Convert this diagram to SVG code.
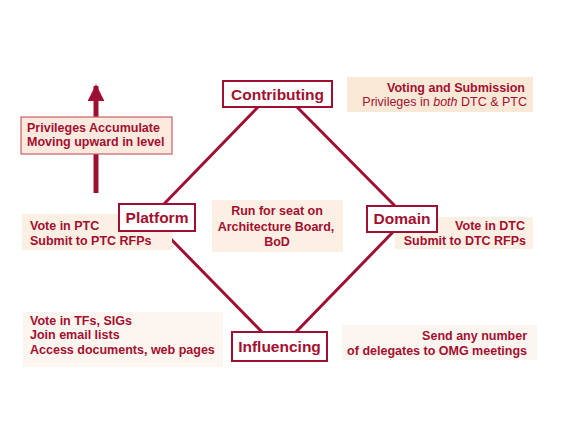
<svg xmlns="http://www.w3.org/2000/svg" width="569" height="428" viewBox="0 0 569 428">
<defs>
<style>
.t{font-family:"Liberation Sans",Arial,sans-serif;font-size:12.5px;font-weight:bold;fill:#A3102F}
.n{font-family:"Liberation Sans",Arial,sans-serif;font-size:15.5px;font-weight:bold;fill:#A3102F;text-anchor:middle}
.box{fill:#ffffff;stroke:#9E1033;stroke-width:2}
.note{fill:#FCEFE4}
.edge{stroke:#9E1033;stroke-width:3;fill:none}
</style>
<marker id="ah" viewBox="0 0 10 10" refX="9" refY="5" markerWidth="3.4" markerHeight="3.4" orient="auto" markerUnits="strokeWidth">
<path d="M0,0 L10,5 L0,10 z" fill="#9E1033"/>
</marker>
</defs>
<rect width="569" height="428" fill="#ffffff"/>

<g id="connectors">
<line class="edge" x1="258" y1="107" x2="163" y2="205"/>
<line class="edge" x1="297" y1="107" x2="395" y2="206"/>
<line class="edge" x1="163" y1="231" x2="263" y2="333"/>
<line class="edge" x1="393" y1="232" x2="295" y2="333"/>
<line x1="96" y1="193" x2="96" y2="86" stroke="#9E1033" stroke-width="5" marker-end="url(#ah)"/>
</g>

<g id="note-accumulate">
<rect x="21" y="117" width="151" height="37" fill="#FCEADF" stroke="#C8606A" stroke-width="1.2"/>
<text class="t" x="27" y="132">Privileges Accumulate</text>
<text class="t" x="27" y="146">Moving upward in level</text>
</g>

<g id="note-contributing">
<rect class="note" x="347" y="77" width="186" height="35" fill="#FBE9D8" style="fill:#FBE9D8"/>
<text class="t" x="525" y="92" text-anchor="end">Voting and Submission</text>
<text class="t" x="527" y="106" text-anchor="end" font-weight="normal" style="font-weight:normal">Privileges in <tspan font-style="italic">both</tspan> DTC &amp; PTC</text>
</g>

<g id="note-platform">
<rect class="note" x="22" y="214" width="150" height="36"/>
<text class="t" x="30" y="230">Vote in PTC</text>
<text class="t" x="30" y="245">Submit to PTC RFPs</text>
</g>

<g id="note-domain">
<rect class="note" x="395" y="217" width="138" height="32"/>
<text class="t" x="525" y="230" text-anchor="end">Vote in DTC</text>
<text class="t" x="526" y="245" text-anchor="end">Submit to DTC RFPs</text>
</g>

<g id="note-center">
<rect class="note" x="212" y="200" width="131" height="52"/>
<text class="t" x="277" y="215" text-anchor="middle">Run for seat on</text>
<text class="t" x="276" y="231" text-anchor="middle">Architecture Board,</text>
<text class="t" x="277" y="246" text-anchor="middle">BoD</text>
</g>

<g id="note-influencing-left">
<rect class="note" x="23" y="312" width="200" height="55" style="fill:#FDF5EF"/>
<text class="t" x="30" y="325">Vote in TFs, SIGs</text>
<text class="t" x="30" y="339">Join email lists</text>
<text class="t" x="30" y="354">Access documents, web pages</text>
</g>

<g id="note-influencing-right">
<rect class="note" x="342" y="325" width="195" height="35" style="fill:#FDF5EF"/>
<text class="t" x="527" y="340" text-anchor="end">Send any number</text>
<text class="t" x="527" y="355" text-anchor="end">of delegates to OMG meetings</text>
</g>

<g id="node-contributing">
<rect class="box" x="223" y="81" width="109" height="26"/>
<text class="n" x="277.5" y="100">Contributing</text>
</g>

<g id="node-platform">
<rect class="box" x="119" y="204" width="76" height="27"/>
<text class="n" x="157" y="223">Platform</text>
</g>

<g id="node-domain">
<rect class="box" x="367" y="206" width="70" height="26"/>
<text class="n" x="402" y="224">Domain</text>
</g>

<g id="node-influencing">
<rect class="box" x="232" y="332" width="95" height="29"/>
<text class="n" x="279.5" y="352">Influencing</text>
</g>
</svg>
